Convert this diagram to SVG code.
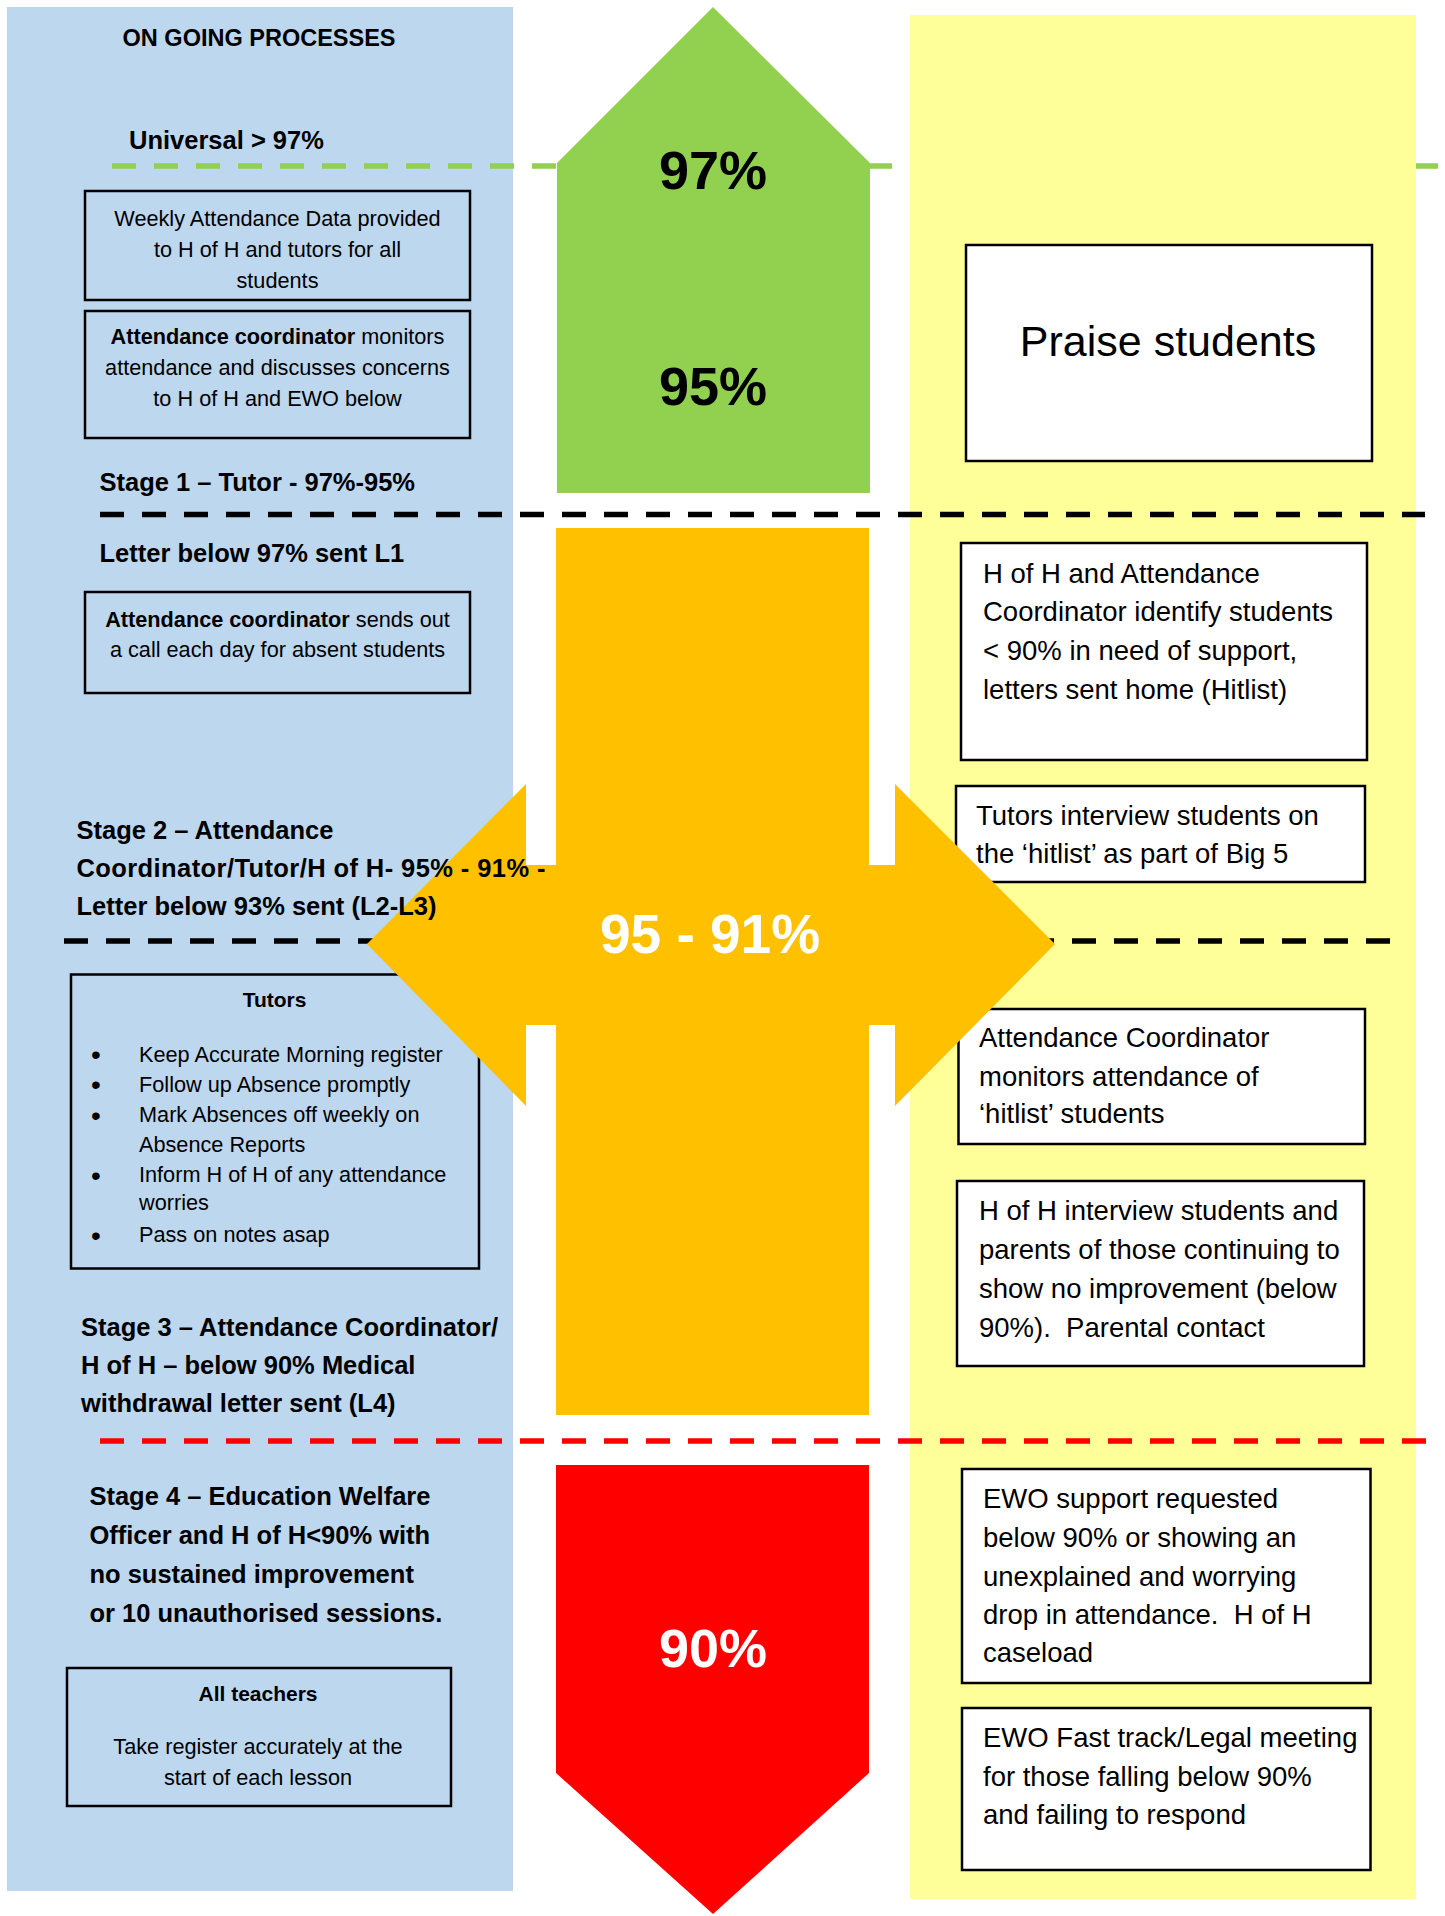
<svg xmlns="http://www.w3.org/2000/svg" width="1445" height="1916" viewBox="0 0 1445 1916">
<style>
text{font-family:"Liberation Sans",Arial,sans-serif;fill:#000}
.h{font-weight:bold;font-size:25.5px}
.lb{font-size:21.7px}
.bul{font-size:28px}
.lbb{font-size:21px;font-weight:bold}
.rb{font-size:27.5px}
.num{font-weight:bold;font-size:54px;text-anchor:middle}
.c{text-anchor:middle}
.box{fill:none;stroke:#000;stroke-width:2.5}
.wbox{fill:#fff;stroke:#000;stroke-width:2.5}
.dash{fill:none;stroke-width:5.5;stroke-dasharray:24 18}
</style>
<rect id="blue-panel" x="7" y="7" width="506" height="1884" fill="#BDD7EE"/>
<g id="connectors-under">
<line class="dash" x1="112" y1="166" x2="1440" y2="166" stroke="#92D050"/>
</g>
<rect id="yellow-panel" x="910" y="15" width="506" height="1884" fill="#FFFF99"/>
<g id="green-arrow">
<polygon points="713,7 870,163 870,493 557,493 557,163" fill="#92D050"/>
</g>
<g id="red-arrow">
<polygon points="556,1465 869,1465 869,1773 713,1914 556,1773" fill="#FF0000"/>
</g>
<g id="box-weekly"><rect class="box" x="85" y="191" width="385" height="109"/>
<text class="lb c" x="277.5" y="226">Weekly Attendance Data provided</text>
<text class="lb c" x="277.5" y="257">to H of H and tutors for all</text>
<text class="lb c" x="277.5" y="288">students</text></g>
<g id="box-monitor"><rect class="box" x="85" y="311" width="385" height="127"/>
<text class="lb c" x="277.5" y="344"><tspan font-weight="bold">Attendance coordinator</tspan> monitors</text>
<text class="lb c" x="277.5" y="375">attendance and discusses concerns</text>
<text class="lb c" x="277.5" y="406">to H of H and EWO below</text></g>
<g id="box-call"><rect class="box" x="85" y="592" width="385" height="101"/>
<text class="lb c" x="277.5" y="627"><tspan font-weight="bold">Attendance coordinator</tspan> sends out</text>
<text class="lb c" x="277.5" y="657">a call each day for absent students</text></g>
<g id="box-tutors-frame"><rect class="box" x="71" y="974.5" width="408" height="294"/></g>
<g id="box-praise"><rect class="wbox" x="966" y="245" width="406" height="216"/>
<text x="1168" y="356" font-size="43" class="c">Praise students</text></g>
<g id="box-hitlist"><rect class="wbox" x="961" y="543" width="406" height="217"/></g>
<g id="box-interview-frame"><rect class="wbox" x="956" y="786" width="409" height="96"/></g>
<g id="box-monitor-hitlist-frame"><rect class="wbox" x="958.5" y="1009" width="406.5" height="135"/></g>
<g id="box-hofh"><rect class="wbox" x="957" y="1181" width="407" height="185"/>
<text class="rb" x="979" y="1219.5">H of H interview students and</text>
<text class="rb" x="979" y="1258.5">parents of those continuing to</text>
<text class="rb" x="979" y="1297.5">show no improvement (below</text>
<text class="rb" x="979" y="1336.5" xml:space="preserve">90%).  Parental contact</text></g>
<g id="box-ewo"><rect class="wbox" x="962" y="1469" width="408.5" height="214"/>
<text class="rb" x="983" y="1508">EWO support requested</text>
<text class="rb" x="983" y="1547">below 90% or showing an</text>
<text class="rb" x="983" y="1586">unexplained and worrying</text>
<text class="rb" x="983" y="1624" xml:space="preserve">drop in attendance.  H of H</text>
<text class="rb" x="983" y="1662">caseload</text></g>
<g id="box-legal"><rect class="wbox" x="962" y="1708" width="408.5" height="162"/>
<text class="rb" x="983" y="1747">EWO Fast track/Legal meeting</text>
<text class="rb" x="983" y="1786">for those falling below 90%</text>
<text class="rb" x="983" y="1824">and failing to respond</text></g>
<g id="box-teachers"><rect class="box" x="67" y="1668" width="384" height="138"/>
<text class="lbb c" x="258" y="1701">All teachers</text>
<text class="lb c" x="258" y="1754">Take register accurately at the</text>
<text class="lb c" x="258" y="1784.5">start of each lesson</text></g>
<g id="connectors-mid">
<line class="dash" x1="64" y1="941" x2="1392" y2="941" stroke="#000"/>
</g>
<g id="orange-cross">
<polygon points="556,528 869,528 869,865 895,865 895,784 1055,944 895,1106 895,1025 869,1025 869,1415 556,1415 556,1025 526,1025 526,1106 367,944 526,784 526,865 556,865" fill="#FFC000"/>
<text x="710" y="953" font-size="55" font-weight="bold" class="c" style="fill:#fff">95 - 91%</text>
</g>
<g id="connectors">
<line class="dash" x1="100" y1="514.5" x2="1425" y2="514.5" stroke="#000"/>
<line class="dash" x1="100" y1="1441" x2="1426" y2="1441" stroke="#FF0000"/>
</g>
<g id="labels-numbers">
<text class="num" x="713" y="189">97%</text>
<text class="num" x="713" y="405">95%</text>
<text class="num" x="713" y="1667" style="fill:#fff">90%</text>
</g>
<g id="box-interview-text">
<text class="rb" x="976" y="825">Tutors interview students on</text>
<text class="rb" x="976" y="862.5">the ‘hitlist’ as part of Big 5</text></g>
<g id="box-hitlist-text">
<text class="rb" x="983" y="582.6">H of H and Attendance</text>
<text class="rb" x="983" y="621">Coordinator identify students</text>
<text class="rb" x="983" y="660">&lt; 90% in need of support,</text>
<text class="rb" x="983" y="699">letters sent home (Hitlist)</text></g>
<g id="box-monitor-hitlist-text">
<text class="rb" x="979" y="1047">Attendance Coordinator</text>
<text class="rb" x="979" y="1086">monitors attendance of</text>
<text class="rb" x="979" y="1123">‘hitlist’ students</text></g>
<g id="box-tutors-text">
<text class="lbb c" x="274.6" y="1006.7">Tutors</text>
<text class="bul" x="91" y="1064">•</text><text class="lb" x="139" y="1061.6">Keep Accurate Morning register</text>
<text class="bul" x="91" y="1094">•</text><text class="lb" x="139" y="1091.5">Follow up Absence promptly</text>
<text class="bul" x="91" y="1124.5">•</text><text class="lb" x="139" y="1122">Mark Absences off weekly on</text>
<text class="lb" x="139" y="1151.5">Absence Reports</text>
<text class="bul" x="91" y="1184.5">•</text><text class="lb" x="139" y="1182">Inform H of H of any attendance</text>
<text class="lb" x="139" y="1210">worries</text>
<text class="bul" x="91" y="1244.5">•</text><text class="lb" x="139" y="1242">Pass on notes asap</text></g>
<g id="stage-labels">
<text x="122.6" y="46" font-size="23.5" font-weight="bold">ON GOING PROCESSES</text>
<text class="h" x="129" y="149">Universal &gt; 97%</text>
<text class="h" x="99.5" y="491">Stage 1 – Tutor - 97%-95%</text>
<text class="h" x="99.5" y="562">Letter below 97% sent L1</text>
<text class="h" x="76.5" y="839">Stage 2 – Attendance</text>
<text class="h" x="76.5" y="877" textLength="469" lengthAdjust="spacing">Coordinator/Tutor/H of H- 95% - 91% -</text>
<text class="h" x="76.5" y="915">Letter below 93% sent (L2-L3)</text>
<text class="h" x="81" y="1336">Stage 3 – Attendance Coordinator/</text>
<text class="h" x="81" y="1374">H of H – below 90% Medical</text>
<text class="h" x="81" y="1412">withdrawal letter sent (L4)</text>
<text class="h" x="89.4" y="1505">Stage 4 – Education Welfare</text>
<text class="h" x="89.4" y="1544">Officer and H of H&lt;90% with</text>
<text class="h" x="89.4" y="1582.6">no sustained improvement</text>
<text class="h" x="89.4" y="1621.5">or 10 unauthorised sessions.</text>
</g>
</svg>
